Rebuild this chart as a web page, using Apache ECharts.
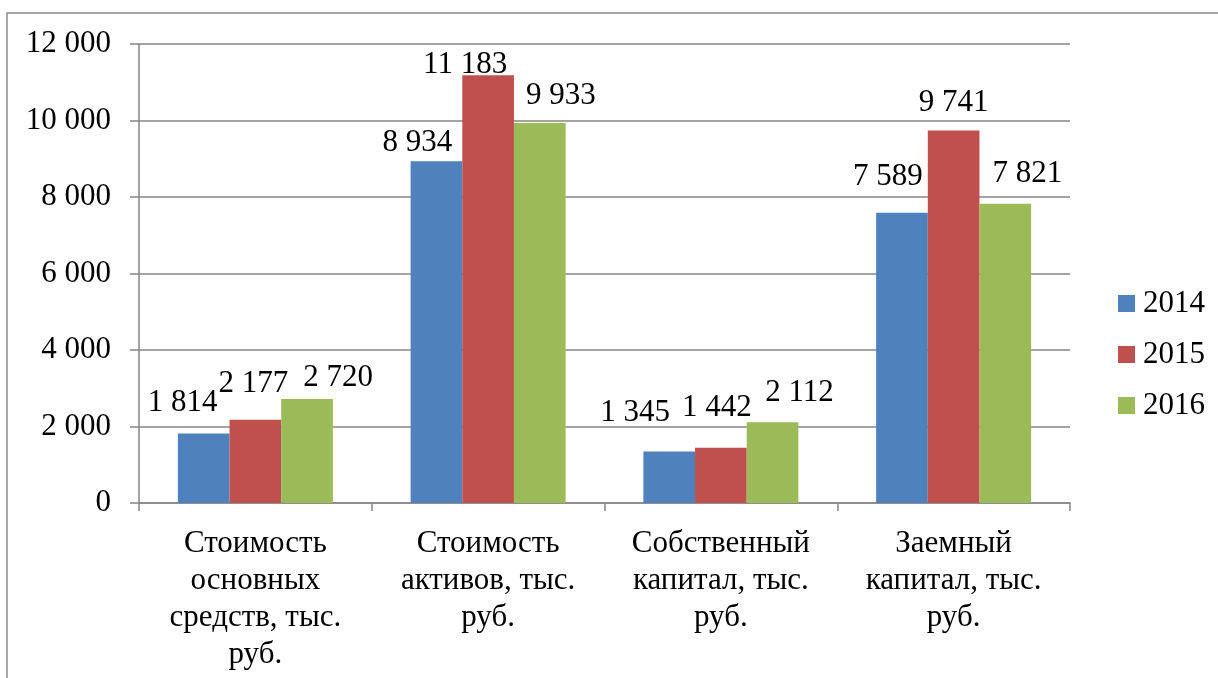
<!DOCTYPE html>
<html>
<head>
<meta charset="utf-8">
<style>
  html, body { margin: 0; padding: 0; background: #ffffff; }
  #chart { width: 1218px; height: 678px; }
</style>
<script src="https://cdn.jsdelivr.net/npm/echarts@6/dist/echarts.min.js"></script>
</head>
<body>
<div id="chart"></div>
<script>
// Financial indicators by year, thousand rubles
const categories = [
  'Стоимость\nосновных\nсредств, тыс.\nруб.',
  'Стоимость\nактивов, тыс.\nруб.',
  'Собственный\nкапитал, тыс.\nруб.',
  'Заемный\nкапитал, тыс.\nруб.'
];
const years = ['2014', '2015', '2016'];
const values2014 = [1814, 8934, 1345, 7589];
const values2015 = [2177, 11183, 1442, 9741];
const values2016 = [2720, 9933, 2112, 7821];
const yTicks = { min: 0, max: 12000, interval: 2000 };

// Label nudges [dx, dy] so neighbouring value labels do not collide
const labelNudge = [
  [[-21, -10], [-19, 2], [-34, -18], [-14, -15]],
  [[-2, -15], [-23, 10], [-4, -19], [0, -7]],
  [[31, -1], [21, -7], [27, -9], [22, -9]]
];

const colors = ['#4F81BD', '#C0504D', '#9BBB59'];
const FONT = 'Liberation Serif';
const fmt = v => String(v).replace(/\B(?=(\d{3})+(?!\d))/g, ' ');

const seriesValues = [values2014, values2015, values2016];

const chart = echarts.init(document.getElementById('chart'));
chart.setOption({
  animation: false,
  backgroundColor: '#ffffff',
  textStyle: { fontFamily: FONT },
  graphic: [{
    type: 'rect',
    shape: { x: 7, y: 13, width: 1400, height: 900 },
    style: { fill: 'none', stroke: '#8a8a8a', lineWidth: 1.5 },
    silent: true
  }],
  grid: { left: 139, right: 148, top: 44, bottom: 175 },
  legend: {
    orient: 'vertical',
    left: 1113,
    top: 283,
    itemWidth: 17,
    itemHeight: 17,
    itemGap: 20,
    icon: 'rect',
    data: years,
    textStyle: { fontFamily: FONT, fontSize: 31, color: '#000', lineHeight: 31, padding: [0, 0, 0, 3] }
  },
  xAxis: {
    type: 'category',
    data: categories,
    axisLine: { lineStyle: { color: '#868686', width: 1.5 } },
    axisTick: { show: true, length: 8, alignWithLabel: false, lineStyle: { color: '#868686', width: 1.5 } },
    axisLabel: {
      interval: 0,
      margin: 22,
      fontFamily: FONT,
      fontSize: 31,
      lineHeight: 37,
      color: '#000',
      align: 'center'
    }
  },
  yAxis: {
    type: 'value',
    min: yTicks.min,
    max: yTicks.max,
    interval: yTicks.interval,
    axisLine: { show: true, lineStyle: { color: '#868686', width: 1.5 } },
    axisTick: { show: true, length: 9, lineStyle: { color: '#868686', width: 1.5 } },
    splitLine: { lineStyle: { color: '#868686', width: 1.5 } },
    axisLabel: {
      margin: 28,
      fontFamily: FONT,
      fontSize: 31,
      color: '#000',
      formatter: v => fmt(v)
    }
  },
  series: years.map((y, si) => ({
    name: y,
    type: 'bar',
    barGap: '0%',
    barCategoryGap: '33.4%',
    itemStyle: { color: colors[si] },
    data: seriesValues[si].map((v, ci) => ({
      value: v,
      label: { offset: labelNudge[si][ci] }
    })),
    label: {
      show: true,
      position: 'top',
      distance: 5,
      fontFamily: FONT,
      fontSize: 31,
      lineHeight: 31,
      color: '#000',
      formatter: p => fmt(p.value)
    }
  }))
});
</script>
</body>
</html>
